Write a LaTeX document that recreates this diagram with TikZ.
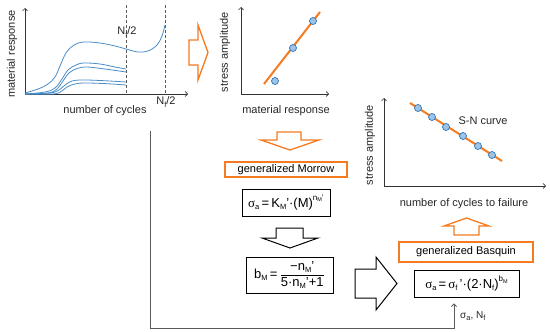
\documentclass[tikz,border=0pt]{standalone}
\usepackage{fontspec}
\setmainfont{Liberation Sans}
\newfontfamily\serifsig{Liberation Serif}
\usetikzlibrary{arrows.meta}
\newcommand{\lo}[1]{\raisebox{-0.35ex}{\fontsize{7.5}{7.5}\selectfont #1}}
\newcommand{\hi}[1]{\raisebox{0.95ex}{\fontsize{8}{8}\selectfont #1}}
\newcommand{\hilo}[1]{\raisebox{-0.3ex}{\fontsize{5.5}{5.5}\selectfont #1}}
\newcommand{\sig}{{\serifsig σ}}
\definecolor{orng}{HTML}{F47B20}
\definecolor{crv}{HTML}{4A8CC8}
\definecolor{dotfill}{HTML}{9DC3E6}
\definecolor{dotdraw}{HTML}{2E75B6}
\definecolor{axisc}{HTML}{333333}
\definecolor{grayln}{HTML}{5A5A5A}
\tikzset{
  axis/.style={draw=axisc, line width=0.6pt, -{Straight Barb[length=2.5pt,width=5pt]}},
  curve/.style={draw=crv, line width=0.8pt},
  fitline/.style={draw=orng, line width=2pt},
  dot/.style={circle, draw=dotdraw, fill=dotfill, line width=0.7pt, minimum size=7pt, inner sep=0pt},
  nfline/.style={draw=grayln, line width=0.8pt, dash pattern=on 3pt off 2pt},
  lbl/.style={font=\fontsize{11}{13}\selectfont, text=black!85, inner sep=0pt},
  obox/.style={draw=orng, line width=1.2pt, inner sep=0pt, font=\fontsize{11}{13}\selectfont},
  fbox/.style={draw=black, line width=0.8pt, inner sep=0pt, font=\fontsize{13}{15}\selectfont},
  ohollow/.style={draw=orng, line width=1.3pt, fill=white, line join=miter},
  bhollow/.style={draw=black, line width=1pt, fill=white, line join=miter},
  conn/.style={draw=grayln, line width=0.9pt, -{Straight Barb[length=2.5pt,width=5pt]}}
}
\begin{document}
\begin{tikzpicture}[x=1pt,y=-1pt]
\path[use as bounding box] (0,0) rectangle (550,332);

% ---------- graph 1 ----------
\coordinate (g1o) at (25,94);
\draw[nfline] (126,5) -- (126,94);
\draw[nfline] (165,5) -- (165,94);
\draw[axis] (g1o) -- (25,8);
\draw[axis] (g1o) -- (188,94);
\draw[curve] plot[smooth, tension=0.6] coordinates {(25,93) (38,89) (48,84) (55,77) (60,66) (66,53) (74,45) (84,42) (100,43) (115,46) (126,49) (138,52) (148,51) (157,45) (162,36) (165,25)};
\draw[curve] plot[smooth, tension=0.6] coordinates {(25,94) (45,92) (55,88) (62,79) (68,70) (76,65) (84,63) (100,64) (115,67) (126,69)};
\draw[curve] plot[smooth, tension=0.6] coordinates {(25,94) (48,93) (57,89) (63,81) (69,73) (77,68.5) (87,67) (105,69) (126,72)};
\draw[curve] plot[smooth, tension=0.6] coordinates {(25,94) (50,93) (59,90) (65,85) (72,81) (82,80) (100,80.5) (126,82)};
\draw[curve] plot[smooth, tension=0.6] coordinates {(25,94) (53,94) (61,91.5) (67,87) (74,84.2) (84,83) (105,83.6) (126,85)};
\node[lbl] (nf1) at (127,32) {N\lo{f}/2};
\node[lbl] (nf2) at (166,102) {N\lo{f}/2};
\node[lbl, rotate=90] (g1y) at (12,54) {material response};
\node[lbl] (g1x) at (105,111) {number of cycles};

% ---------- orange right arrow ----------
\draw[ohollow] (189,40) -- (198,40) -- (198,25) -- (208,52.5) -- (198,80) -- (198,65) -- (189,65) -- cycle;

% ---------- graph 2 ----------
\draw[axis] (241,94) -- (241,7);
\draw[axis] (241,94) -- (329,94);
\draw[fitline] (264,84) -- (320,12);
\node[dot] (p1) at (275,81) {};
\node[dot] (p2) at (293,48) {};
\node[dot] (p3) at (313,21) {};
\node[lbl, rotate=90] (g2y) at (225,52) {stress amplitude};
\node[lbl] (g2x) at (286,111) {material response};

% ---------- middle column ----------
\draw[ohollow] (277,132) -- (301,132) -- (301,140) -- (319,140) -- (290,150) -- (261,140) -- (277,140) -- cycle;
\node[obox, minimum width=122pt, minimum height=15pt] (morrow) at (286,169.5) {generalized Morrow};
\node[fbox, minimum width=88pt, minimum height=27pt] (mform) at (286,202.5)
  {\sig\lo{a}\,=\,K\lo{M}'·(M)\hi{n\hilo{M}'}};
\draw[bhollow] (276,228) -- (303,228) -- (303,238) -- (318,238) -- (290,248) -- (262,238) -- (276,238) -- cycle;
\node[fbox, minimum width=87pt, minimum height=36pt] (bm) at (289.5,275)
  {b\lo{M}\,=\,$\displaystyle\frac{\mbox{−n\lo{M}'}}{\mbox{5·n\lo{M}'+1}}$};

% ---------- big right arrow ----------
\draw[bhollow] (355,269) -- (376,269) -- (376,257) -- (397,283.5) -- (376,310) -- (376,298) -- (355,298) -- cycle;

% ---------- graph 3 ----------
\draw[axis] (384,186) -- (384,98);
\draw[axis] (384,186) -- (546,186);
\draw[fitline] (410,103) -- (502,161);
\node[dot] (s1) at (418,108) {};
\node[dot] (s2) at (432,117) {};
\node[dot] (s3) at (446,127) {};
\node[dot] (s4) at (463,136) {};
\node[dot] (s5) at (478,146) {};
\node[dot] (s6) at (492,155) {};
\node[lbl] (sn) at (483,121) {S-N curve};
\node[lbl, rotate=90] (g3y) at (370,145) {stress amplitude};
\node[lbl] (g3x) at (464,204) {number of cycles to failure};

% ---------- Basquin ----------
\draw[ohollow] (454,235) -- (479,235) -- (479,226) -- (489,226) -- (466.5,218) -- (444,226) -- (454,226) -- cycle;
\node[obox, minimum width=134pt, minimum height=20pt] (basq) at (466,252) {generalized Basquin};
\node[fbox, minimum width=105pt, minimum height=27pt] (bform) at (466.5,283.5)
  {\sig\lo{a}\,=\,\sig\lo{f}\,'·(2·N\lo{f})\hi{b\hilo{M}}};

% ---------- data connector ----------
\coordinate (src) at (150,131);
\coordinate (turn) at (454,328);
\draw[conn, shorten >=6pt] (src) |- (turn) -- (bform.south -| turn);
\node[lbl, font=\fontsize{10}{12}\selectfont, anchor=west] (san) at (460,316) {σ\lo{a}, N\lo{f}};
\end{tikzpicture}
\end{document}
